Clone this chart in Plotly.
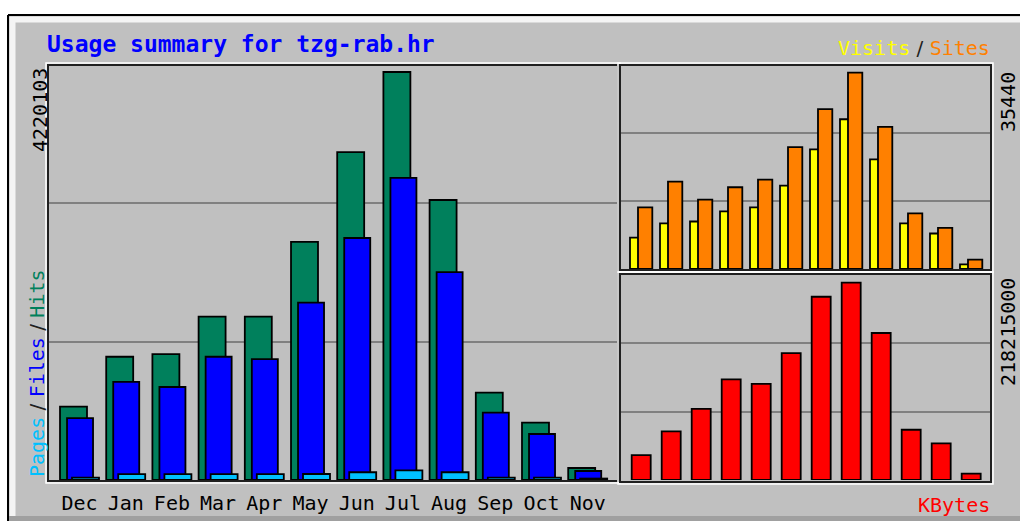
import plotly.graph_objects as go

months = ["Dec", "Jan", "Feb", "Mar", "Apr", "May", "Jun", "Jul", "Aug", "Sep", "Oct", "Nov"]
hits = [758000, 1275000, 1303000, 1689000, 1689000, 2462000, 3392000, 4220103, 2896000, 903000, 593000, 124000]
files = [641000, 1014000, 962000, 1275000, 1251000, 1834000, 2503000, 3124000, 2151000, 696000, 476000, 93000]
pages = [25000, 60000, 60000, 60000, 60000, 62000, 80000, 100000, 80000, 25000, 25000, 15000]
visits = [5680, 8220, 8580, 10400, 11130, 15060, 21600, 27040, 19780, 8220, 6410, 850]
sites = [11130, 15790, 12520, 14760, 16150, 22020, 28860, 35440, 25650, 10040, 7440, 1690]
kbytes = [27460000, 53700000, 78600000, 111200000, 106400000, 140400000, 202700000, 218215000, 162600000, 55600000, 40400000, 7000000]

W, H = 1020, 521
MONO = "DejaVu Sans Mono"
C_HITS, C_FILES, C_PAGES = "#00805c", "#0000ff", "#00c0ff"
C_VISITS, C_SITES, C_KB = "#ffff00", "#ff8000", "#ff0000"
BG = "#c0c0c0"


def px(x):
    return x / W


def py(y):
    return 1 - y / H


xs = list(range(len(months)))
bl = dict(color="black", width=1.8)

fig = go.Figure()
# main panel
fig.add_trace(go.Bar(x=xs, y=hits, offset=-0.422, width=0.584, marker=dict(color=C_HITS, line=bl), xaxis="x", yaxis="y"))
fig.add_trace(go.Bar(x=xs, y=files, offset=-0.27, width=0.563, marker=dict(color=C_FILES, line=bl), xaxis="x", yaxis="y"))
fig.add_trace(go.Bar(x=xs, y=pages, offset=-0.162, width=0.584, marker=dict(color=C_PAGES, line=bl), xaxis="x", yaxis="y"))
# visits / sites
fig.add_trace(go.Bar(x=xs, y=visits, offset=-0.367, width=0.3, marker=dict(color=C_VISITS, line=bl), xaxis="x2", yaxis="y2"))
fig.add_trace(go.Bar(x=xs, y=sites, offset=-0.1, width=0.477, marker=dict(color=C_SITES, line=bl), xaxis="x2", yaxis="y2"))
# kbytes
fig.add_trace(go.Bar(x=xs, y=kbytes, offset=-0.31, width=0.633, marker=dict(color=C_KB, line=bl), xaxis="x3", yaxis="y3"))

r1 = max(hits) * 415 / 408
r2 = max(sites) * 204 / 196.3
r3 = max(kbytes) * 205 / 197.3

grid = dict(showgrid=True, gridcolor="#808080", gridwidth=2, showticklabels=False,
            zeroline=False, showline=False, ticks="")

fig.update_layout(
    width=W, height=H, margin=dict(l=0, r=0, t=0, b=0),
    paper_bgcolor="white", plot_bgcolor="rgba(0,0,0,0)",
    barmode="overlay", showlegend=False,
    xaxis=dict(domain=[px(48), px(618)], range=[-0.682, 11.656], tickvals=xs, ticktext=months,
               tickfont=dict(family=MONO, size=20, color="black"), showgrid=False, zeroline=False,
               ticks="", ticklabelstandoff=9, anchor="y"),
    yaxis=dict(domain=[py(480), py(65)], range=[0, r1], tickvals=[r1 / 3, 2 * r1 / 3], anchor="x", **grid),
    xaxis2=dict(domain=[px(620), px(991)], range=[-0.7, 11.667], showticklabels=False, showgrid=False,
                zeroline=False, ticks="", anchor="y2"),
    yaxis2=dict(domain=[py(269), py(65)], range=[0, r2], tickvals=[r2 / 3, 2 * r2 / 3], anchor="x2", **grid),
    xaxis3=dict(domain=[px(620), px(991)], range=[-0.7, 11.667], showticklabels=False, showgrid=False,
                zeroline=False, ticks="", anchor="y3"),
    yaxis3=dict(domain=[py(480), py(275)], range=[0, r3], tickvals=[r3 / 3, 2 * r3 / 3], anchor="x3", **grid),
)

shapes = []
# background frame
shapes.append(dict(type="rect", xref="paper", yref="paper", x0=px(8), x1=px(1025), y0=py(521), y1=py(15),
                   fillcolor=BG, line=dict(width=0), layer="below"))
shapes.append(dict(type="rect", xref="paper", yref="paper", x0=px(8), x1=px(1025), y0=py(521), y1=py(516),
                   fillcolor="#a0a0a0", line=dict(width=0), layer="below"))
shapes.append(dict(type="line", xref="paper", yref="paper", x0=px(8), x1=px(1025), y0=py(15), y1=py(15),
                   line=dict(color="black", width=2), layer="below"))
shapes.append(dict(type="line", xref="paper", yref="paper", x0=px(8), x1=px(8), y0=py(15), y1=py(521),
                   line=dict(color="black", width=2), layer="below"))
shapes.append(dict(type="line", xref="paper", yref="paper", x0=px(10), x1=px(1025), y0=py(19.5), y1=py(19.5),
                   line=dict(color="#f4f4f4", width=6), layer="below"))
shapes.append(dict(type="line", xref="paper", yref="paper", x0=px(12.5), x1=px(12.5), y0=py(17), y1=py(516),
                   line=dict(color="#f4f4f4", width=6), layer="below"))

# panel borders
for (x0, y0, x1, y1) in [(48, 65, 618, 481), (620, 65, 991, 270), (620, 274, 991, 482)]:
    shapes.append(dict(type="rect", xref="paper", yref="paper", x0=px(x0 - 2), x1=px(x1 + 2),
                       y0=py(y1 + 2), y1=py(y0 - 2), line=dict(color="white", width=1.5), layer="above"))
    shapes.append(dict(type="rect", xref="paper", yref="paper", x0=px(x0), x1=px(x1),
                       y0=py(y1), y1=py(y0), line=dict(color="#202020", width=2), layer="above"))
fig.update_layout(shapes=shapes)

SEP = "<span style='font-family:DejaVu Sans;color:#202020'> / </span>"
ann = [
    dict(text="Usage summary for tzg-rab.hr", x=px(46), y=py(44), xanchor="left", yanchor="middle",
         font=dict(family=MONO, size=23, color="#0000ff", weight="bold")),
    dict(text="<span style='color:%s'>Visits</span>%s<span style='color:%s'>Sites</span>" % (C_VISITS, SEP, C_SITES),
         x=px(991), y=py(48), xanchor="right", yanchor="middle", font=dict(family=MONO, size=20)),
    dict(text="KBytes", x=px(991), y=py(505), xanchor="right", yanchor="middle",
         font=dict(family=MONO, size=20, color=C_KB)),
    dict(text="<span style='color:%s'>Pages</span>%s<span style='color:%s'>Files</span>%s<span style='color:%s'>Hits</span>"
         % (C_PAGES, SEP, C_FILES, SEP, C_HITS),
         x=px(37), y=py(478), xanchor="center", yanchor="bottom", textangle=-90,
         font=dict(family=MONO, size=20)),
    dict(text=str(max(hits)), x=px(40), y=py(67), xanchor="center", yanchor="top", textangle=-90,
         font=dict(family=MONO, size=20, color="black")),
    dict(text=str(max(sites)), x=px(1008), y=py(71), xanchor="center", yanchor="top", textangle=-90,
         font=dict(family=MONO, size=20, color="black")),
    dict(text=str(max(kbytes)), x=px(1008), y=py(277), xanchor="center", yanchor="top", textangle=-90,
         font=dict(family=MONO, size=20, color="black")),
]
for a in ann:
    a.update(xref="paper", yref="paper", showarrow=False, borderpad=0)
fig.update_layout(annotations=ann)

fig.write_html("out.html", config={"displayModeBar": False},
               post_script="document.body.style.margin='0';document.body.style.overflow='hidden';")
